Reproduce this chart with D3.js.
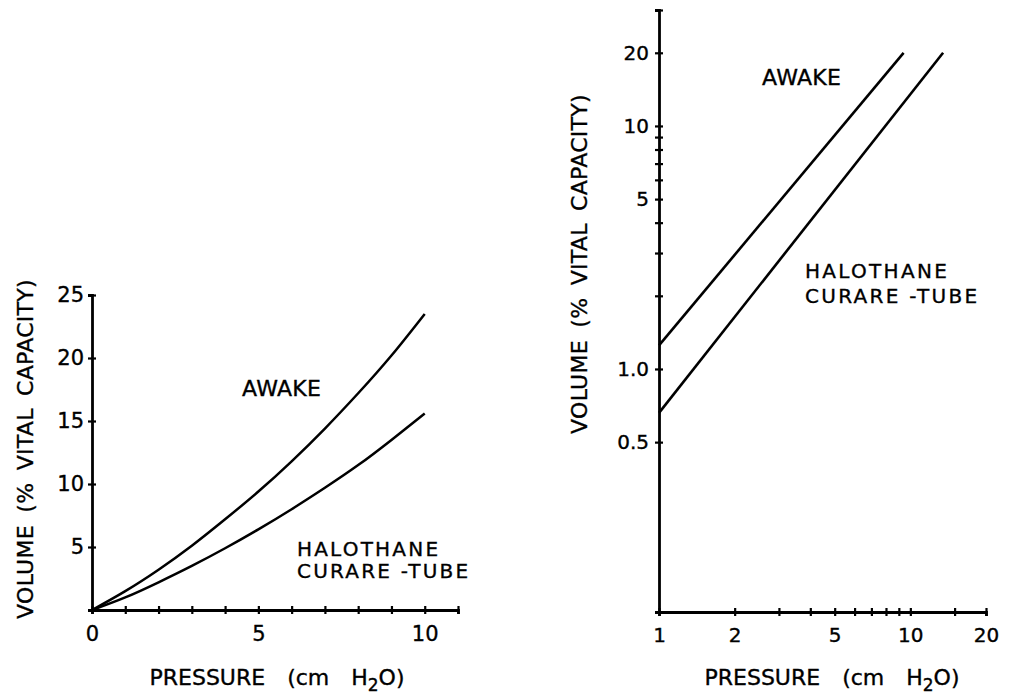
<!DOCTYPE html>
<html>
<head>
<meta charset="utf-8">
<script src="https://cdn.jsdelivr.net/npm/d3@7/dist/d3.min.js"></script>
<style>
    body { margin: 0; background: #fff; }
    svg text { font-family: "DejaVu Sans", sans-serif; fill: #000; stroke: #000; stroke-width: 0.35px; }
</style>
</head>
<body>
<div id="chart"></div>
<script>
// Left panel: linear pressure vs volume
const linPressure = [0, 1, 2, 3, 4, 5, 6, 7, 8, 9, 10];
const linAwake = [0, 1.5, 3.2, 5.1, 7.2, 9.4, 11.8, 14.4, 17.2, 20.2, 23.5];
const linHalothane = [0, 1.0, 2.2, 3.5, 4.9, 6.4, 8.0, 9.7, 11.5, 13.5, 15.6];
const linXTicks = [0, 1, 2, 3, 4, 5, 6, 7, 8, 9, 10, 11];
const linXLabels = [0, 5, 10];
const linYTicks = [5, 10, 15, 20, 25];

// Right panel: log-log, straight lines
const logAwakeP = [1, 9.4];
const logAwakeV = [1.25, 20];
const logHalothaneP = [1, 13.5];
const logHalothaneV = [0.66, 20];
const logXTicks = [1, 2, 3, 4, 5, 6, 7, 8, 9, 10, 15, 20];
const logXLabels = [1, 2, 5, 10, 20];
const logYTicks = [0.5, 1, 2, 3, 4, 5, 6, 7, 8, 9, 10, 20, 30];
const logYLabels = { 0.5: "0.5", 1: "1.0", 5: "5", 10: "10", 20: "20" };

const width = 1010;
const height = 694;

const svg = d3.select("#chart").append("svg")
    .attr("width", width)
    .attr("height", height);

function styleAxis(g, horizontal) {
    g.select(".domain").attr("stroke", "#000").attr("stroke-width", 2.8);
    g.selectAll(".tick line")
        .attr("stroke", "#000")
        .attr("stroke-width", 2.2);
    if (horizontal) {
        g.selectAll(".tick line").attr("y1", -4).attr("y2", 4);
    } else {
        g.selectAll(".tick line").attr("x1", -4).attr("x2", 4);
    }
}

function lineLabel(lines, x, y, size, spacing, gap) {
    lines.forEach(function(t, i) {
        svg.append("text")
            .attr("x", x)
            .attr("y", y + i * gap)
            .attr("font-size", size)
            .attr("letter-spacing", spacing)
            .style("white-space", "pre")
            .text(t);
    });
}

function xTitle(cx) {
    const t = svg.append("text")
        .attr("x", cx)
        .attr("y", 685)
        .attr("text-anchor", "middle")
        .attr("font-size", 22)
        .attr("word-spacing", 4)
        .style("white-space", "pre");
    t.append("tspan").text("PRESSURE  (cm  H");
    t.append("tspan").attr("dy", 6).attr("font-size", 17).text("2");
    t.append("tspan").attr("dy", -6).text("O)");
}

function yTitle(x, cy) {
    svg.append("text")
        .attr("transform", `translate(${x},${cy}) rotate(-90)`)
        .attr("text-anchor", "middle")
        .attr("font-size", 22)
        .attr("letter-spacing", 0.3)
        .attr("word-spacing", 5)
        .text("VOLUME (% VITAL CAPACITY)");
}

// ---------- left panel ----------
const xL = d3.scaleLinear().domain([0, 11]).range([92, 458]);
const yL = d3.scaleLinear().domain([0, 25]).range([610, 295]);

svg.append("g")
    .attr("transform", `translate(0,${yL(0)})`)
    .call(d3.axisBottom(xL)
        .tickValues(linXTicks)
        .tickSizeOuter(0)
        .tickSize(4)
        .tickPadding(12)
        .tickFormat(d => linXLabels.includes(d) ? d : ""))
    .attr("font-size", 21)
    .attr("font-family", "DejaVu Sans")
    .call(g => styleAxis(g, true));

svg.append("g")
    .attr("transform", `translate(${xL(0)},0)`)
    .call(d3.axisLeft(yL)
        .tickValues(linYTicks)
        .tickSizeOuter(0)
        .tickSize(4)
        .tickPadding(4))
    .attr("font-size", 21)
    .attr("font-family", "DejaVu Sans")
    .call(g => styleAxis(g, false));

const linLine = d3.line()
    .x((d, i) => xL(linPressure[i]))
    .y(d => yL(d))
    .curve(d3.curveNatural);

[linAwake, linHalothane].forEach(function(series) {
    svg.append("path")
        .attr("d", linLine(series))
        .attr("fill", "none")
        .attr("stroke", "#000")
        .attr("stroke-width", 2.5);
});

lineLabel(["AWAKE"], 242, 396, 22, 0.3, 0);
lineLabel(["HALOTHANE", "CURARE -TUBE"], 297, 556, 20, 2.2, 22);
xTitle(277);
yTitle(33, 449);

// ---------- right panel ----------
const xR = d3.scaleLog().domain([1, 20]).range([659, 986]);
const yR = d3.scaleLog().domain([0.1, 30]).range([612, 10]);

svg.append("g")
    .attr("transform", `translate(0,${yR(0.1)})`)
    .call(d3.axisBottom(xR)
        .tickValues(logXTicks)
        .tickSizeOuter(0)
        .tickSize(4)
        .tickPadding(12)
        .tickFormat(d => logXLabels.includes(d) ? d : ""))
    .attr("font-size", 20)
    .attr("font-family", "DejaVu Sans")
    .call(g => styleAxis(g, true));

svg.append("g")
    .attr("transform", `translate(${xR(1)},0)`)
    .call(d3.axisLeft(yR)
        .tickValues(logYTicks)
        .tickSizeOuter(0)
        .tickSize(4)
        .tickPadding(6)
        .tickFormat(d => logYLabels[d] || ""))
    .attr("font-size", 20)
    .attr("font-family", "DejaVu Sans")
    .call(g => styleAxis(g, false));

const logLine = d3.line()
    .x(d => xR(d[0]))
    .y(d => yR(d[1]));

[[logAwakeP, logAwakeV], [logHalothaneP, logHalothaneV]].forEach(function(s) {
    svg.append("path")
        .attr("d", logLine(d3.zip(s[0], s[1])))
        .attr("fill", "none")
        .attr("stroke", "#000")
        .attr("stroke-width", 2.6);
});

lineLabel(["AWAKE"], 762, 85, 22, 0.3, 0);
lineLabel(["HALOTHANE", "CURARE -TUBE"], 805, 278, 20, 2.3, 25);
xTitle(832);
yTitle(587, 264);
</script>
</body>
</html>
